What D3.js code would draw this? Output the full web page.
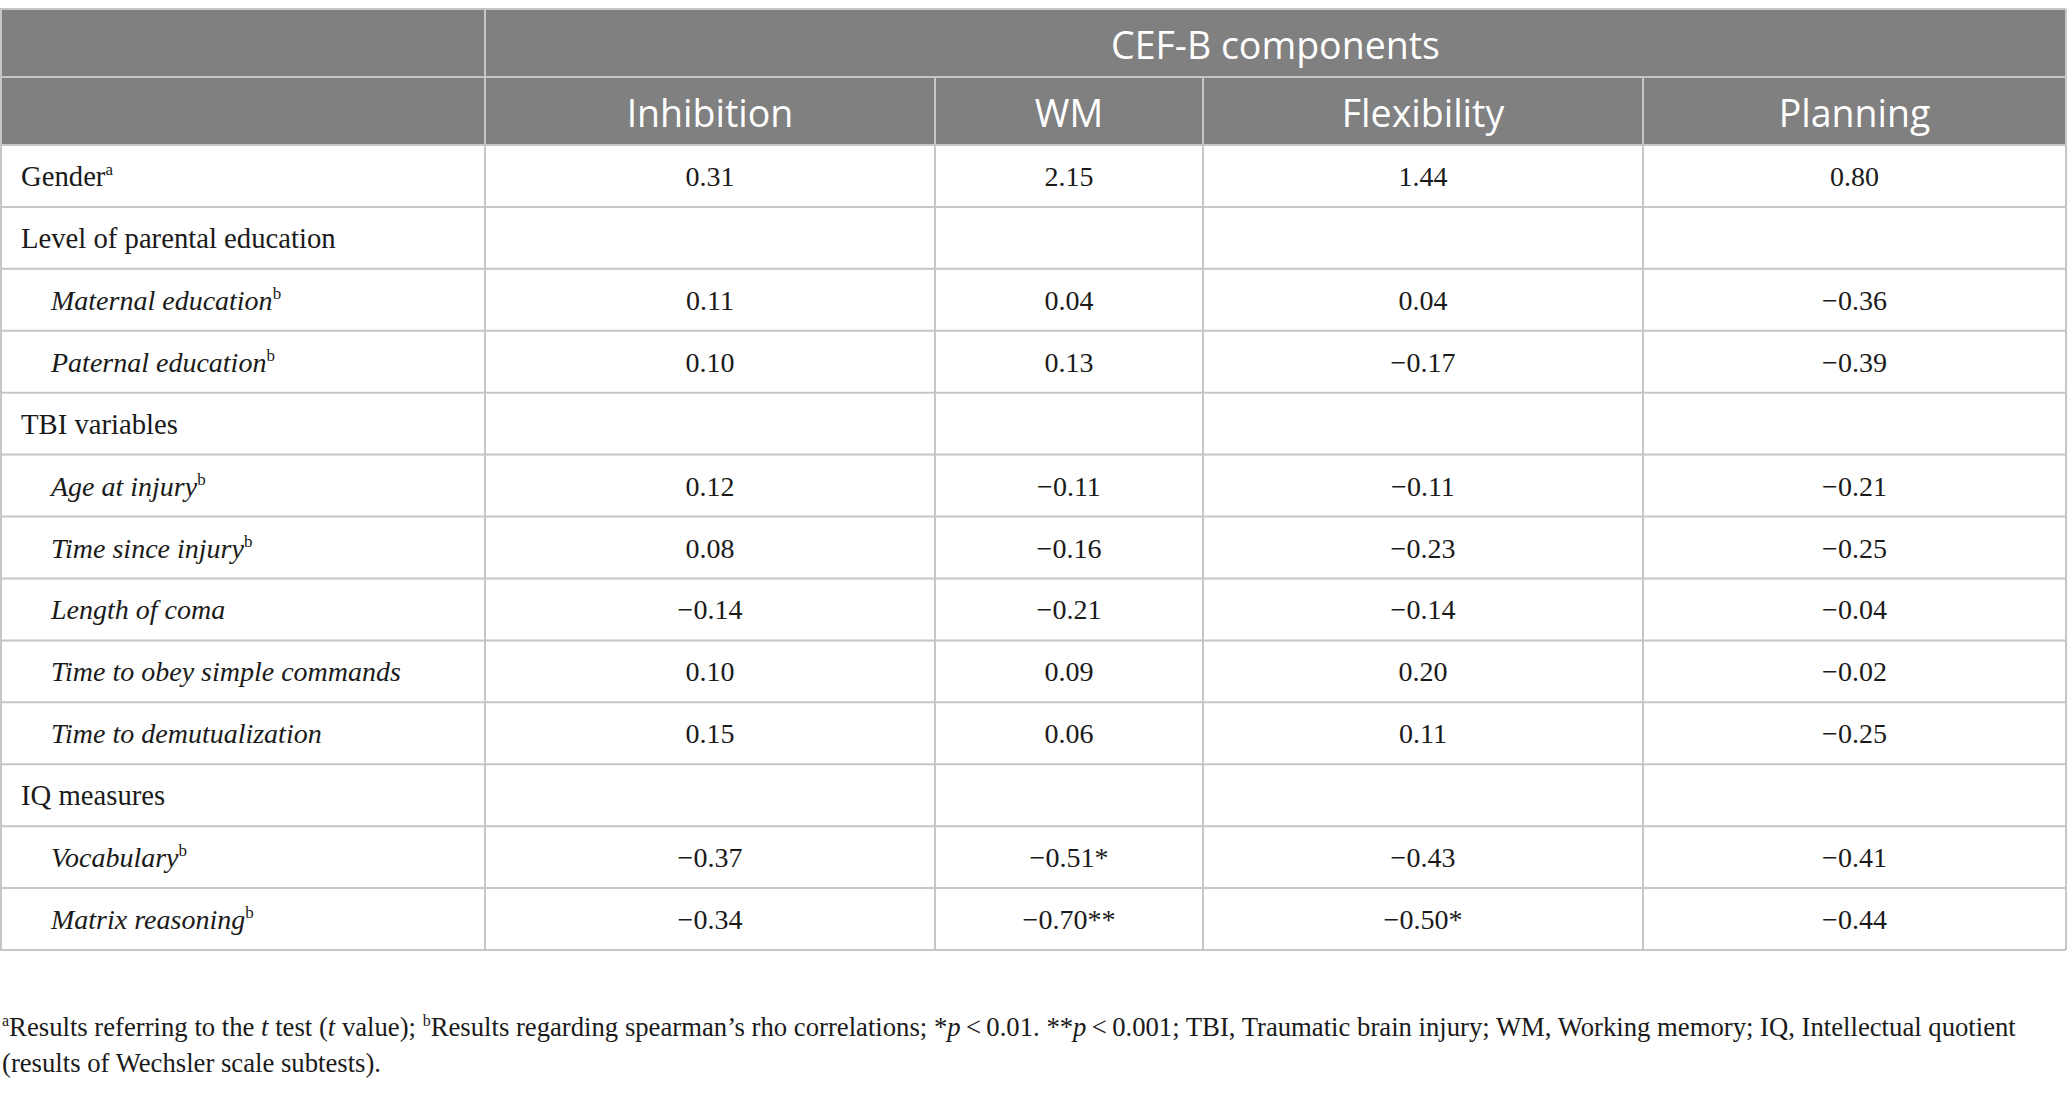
<!DOCTYPE html>
<html>
<head>
<meta charset="utf-8">
<script src="https://cdn.jsdelivr.net/npm/d3@7"></script>
<style>
  body { margin: 0; background: #fff; }
</style>
</head>
<body>
<div id="table"></div>
<script>
// table content
var spanner   = "CEF-B components";
var columns   = ["Inhibition", "WM", "Flexibility", "Planning"];
var rowLabels = ["Gender", "Level of parental education", "Maternal education", "Paternal education",
                 "TBI variables", "Age at injury", "Time since injury", "Length of coma",
                 "Time to obey simple commands", "Time to demutualization", "IQ measures",
                 "Vocabulary", "Matrix reasoning"];
var rowSup    = ["a", "", "b", "b", "", "b", "b", "", "", "", "", "b", "b"];
var rowSub    = [false, false, true, true, false, true, true, true, true, true, false, true, true];

var inhibition  = [0.31, null, 0.11, 0.10, null, 0.12, 0.08, -0.14, 0.10, 0.15, null, -0.37, -0.34];
var wm          = [2.15, null, 0.04, 0.13, null, -0.11, -0.16, -0.21, 0.09, 0.06, null, -0.51, -0.70];
var flexibility = [1.44, null, 0.04, -0.17, null, -0.11, -0.23, -0.14, 0.20, 0.11, null, -0.43, -0.50];
var planning    = [0.80, null, -0.36, -0.39, null, -0.21, -0.25, -0.04, -0.02, -0.25, null, -0.41, -0.44];

var wmStars   = ["", "", "", "", "", "", "", "", "", "", "", "*", "**"];
var flexStars = ["", "", "", "", "", "", "", "", "", "", "", "", "*"];
var noStars   = ["", "", "", "", "", "", "", "", "", "", "", "", ""];

var footLine1 = [
  {t: "a", sup: true}, {t: "Results referring to the "}, {t: "t", it: true}, {t: " test ("},
  {t: "t", it: true}, {t: " value); "}, {t: "b", sup: true},
  {t: "Results regarding spearman\u2019s rho correlations; *"}, {t: "p", it: true},
  {t: "\u2009<\u20090.01. **"}, {t: "p", it: true},
  {t: "\u2009<\u20090.001; TBI, Traumatic brain injury; WM, Working memory; IQ, Intellectual quotient"}
];
var footLine2 = [{t: "(results of Wechsler scale subtests)."}];

var W = 2067, H = 1093;
var colEdges = [0, 485, 935, 1203, 1643, 2066];
var tableTop = 9, headH = 68;
var serif = "'Liberation Serif', 'Times New Roman', serif";
var sans  = "'Open Sans', 'Noto Sans', sans-serif";
var lineColor = "#c6c6c6";

var series = [
  {vals: inhibition,  stars: noStars},
  {vals: wm,          stars: wmStars},
  {vals: flexibility, stars: flexStars},
  {vals: planning,    stars: noStars}
];

var fmt = d3.format(".2f");

var svg = d3.select("#table").append("svg")
    .attr("width", W)
    .attr("height", H);

var x = d3.scaleOrdinal()
    .domain(columns)
    .range(columns.map((c, i) => (colEdges[i + 1] + colEdges[i + 2]) / 2));

var y = d3.scaleBand()
    .domain(d3.range(rowLabels.length))
    .range([tableTop + 2 * headH, 950]);

// header background
svg.append("rect")
    .attr("x", 0).attr("y", tableTop)
    .attr("width", colEdges[5]).attr("height", 2 * headH)
    .attr("fill", "#7f807f");

svg.append("text")
    .attr("x", (colEdges[1] + colEdges[5]) / 2)
    .attr("y", tableTop + 50)
    .attr("text-anchor", "middle")
    .attr("font-family", sans)
    .attr("font-size", 37.5)
    .attr("fill", "#fff")
    .text(spanner);

svg.selectAll("text.colhead")
  .data(columns)
  .enter().append("text")
    .attr("class", "colhead")
    .attr("x", d => x(d))
    .attr("y", tableTop + headH + 50)
    .attr("text-anchor", "middle")
    .attr("font-family", sans)
    .attr("font-size", 37.5)
    .attr("fill", "#fff")
    .text(d => d);

// grid lines
var grid = svg.append("g")
    .attr("stroke", lineColor)
    .attr("stroke-width", 2);

var bottom = y(rowLabels.length - 1) + y.bandwidth();

d3.range(rowLabels.length).map((i) => {
  grid.append("line")
      .attr("x1", 0).attr("x2", colEdges[5])
      .attr("y1", y(i)).attr("y2", y(i));
});
[tableTop, tableTop + headH, bottom].map((yy) => {
  grid.append("line")
      .attr("x1", 0).attr("x2", colEdges[5])
      .attr("y1", yy).attr("y2", yy);
});

colEdges.map((cx, i) => {
  // inner column lines start below the spanner row
  var y1 = (i == 0 || i == 1 || i == 5) ? tableTop : tableTop + headH;
  var xx = i == 0 ? 1 : cx;
  grid.append("line")
      .attr("x1", xx).attr("x2", xx)
      .attr("y1", y1).attr("y2", bottom);
});

// row labels
var labels = svg.selectAll("text.rowlabel")
  .data(rowLabels)
  .enter().append("text")
    .attr("class", "rowlabel")
    .attr("x", (d, i) => rowSub[i] ? 51 : 21)
    .attr("y", (d, i) => y(i) + y.bandwidth() / 2 + 10)
    .attr("font-family", serif)
    .attr("font-size", (d, i) => rowSub[i] ? 28 : 28.7)
    .attr("font-style", (d, i) => rowSub[i] ? "italic" : "normal")
    .attr("fill", "#1a1a1a");

labels.append("tspan").text(d => d);
labels.append("tspan")
    .attr("font-size", 17)
    .attr("font-style", "normal")
    .attr("dy", -11)
    .text((d, i) => rowSup[i]);

// values
series.map((s, j) => {
  svg.selectAll("text.val" + j)
    .data(s.vals)
    .enter().append("text")
      .attr("class", "val" + j)
      .attr("x", x(columns[j]))
      .attr("y", (d, i) => y(i) + y.bandwidth() / 2 + 10)
      .attr("text-anchor", "middle")
      .attr("font-family", serif)
      .attr("font-size", 28)
      .attr("fill", "#1a1a1a")
      .text((d, i) => d == null ? "" : fmt(d) + s.stars[i]);
});

// footnote
function footLine(parts, yy) {
  var t = svg.append("text")
      .attr("x", 2)
      .attr("y", yy)
      .attr("font-family", serif)
      .attr("font-size", 26.7)
      .attr("fill", "#1a1a1a");
  parts.map((p, k) => {
    var sp = t.append("tspan").text(p.t);
    if (p.it) sp.attr("font-style", "italic");
    if (p.sup) {
      sp.attr("font-size", 16).attr("dy", -10);
    } else if (k > 0 && parts[k - 1].sup) {
      sp.attr("dy", 10);
    }
  });
}
footLine(footLine1, 1036);
footLine(footLine2, 1072);
</script>
</body>
</html>
